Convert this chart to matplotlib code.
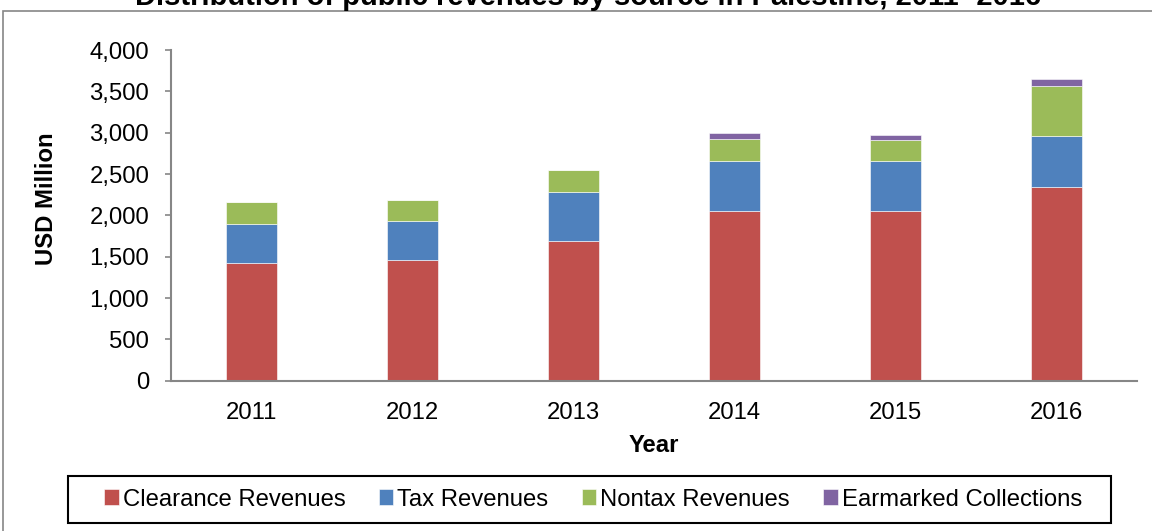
import numpy as np
import matplotlib
matplotlib.use("Agg")
import matplotlib.pyplot as plt
from matplotlib.patches import Rectangle

plt.rcParams['font.family'] = ['Liberation Sans', 'DejaVu Sans']

# values, USD million
years = ['2011', '2012', '2013', '2014', '2015', '2016']
clearance = [1422, 1462, 1692, 2051, 2051, 2341]
tax = [479, 475, 596, 604, 611, 623]
nontax = [259, 250, 262, 273, 247, 605]
earmarked = [0, 0, 0, 65, 60, 81]

series_names = ['Clearance Revenues', 'Tax Revenues', 'Nontax Revenues', 'Earmarked Collections']
colors = ['#C0504D', '#4F81BD', '#9BBB59', '#8064A2']

FS = 17.2
W, H = 1152, 531
fig = plt.figure(figsize=(W / 100, H / 100), dpi=100)
ax = fig.add_axes([170.7 / W, 1 - 380.7 / H, 966 / W, 330.7 / H])

x = np.arange(len(years))
bottom = np.zeros(len(years))
for vals, name, c in zip([clearance, tax, nontax, earmarked], series_names, colors):
    vals = np.array(vals, dtype=float)
    ax.bar(x, vals, 0.317, bottom=bottom, color=c, label=name,
           edgecolor='white', linewidth=0.4)
    bottom += vals

ax.set_xlim(-0.5, len(years) - 0.5)
ax.set_ylim(0, 4000)
ax.set_yticks(np.arange(0, 4001, 500))
ax.set_yticklabels([f'{v:,}' for v in range(0, 4001, 500)])
ax.set_xticks(x)
ax.set_xticklabels(years)

for s in ['top', 'right']:
    ax.spines[s].set_visible(False)
for s in ['left', 'bottom']:
    ax.spines[s].set_color('#868686')
    ax.spines[s].set_linewidth(1.5)

ax.tick_params(axis='y', length=4.5, width=1.2, color='#868686', pad=11, labelsize=FS)
ax.tick_params(axis='x', length=0, pad=15, labelsize=FS)

ax.set_ylabel('USD Million', fontsize=FS, fontweight='bold')
ax.yaxis.set_label_coords((58 - 170.7) / 966, (380.7 - 199) / 330.7)
ax.set_xlabel('Year', fontsize=FS, fontweight='bold')
ax.xaxis.set_label_coords(0.5, (380.7 - 434) / 330.7)

# title, mostly cut off at the top edge of the picture
fig.text(588 / W, 1 - 5 / H, 'Distribution of public revenues by source in Palestine, 2011- 2016',
         ha='center', va='baseline', fontsize=21, fontweight='bold')

# outer chart border
fig.patches.append(Rectangle((3 / W, -0.1), 1.2, 1 - 11 / H + 0.1, transform=fig.transFigure,
                             fill=False, edgecolor='#868686', linewidth=1.2))

# legend box
fig.patches.append(Rectangle((67.6 / W, 1 - 523 / H), (1111 - 67.6) / W, 47 / H,
                             transform=fig.transFigure, fill=False,
                             edgecolor='black', linewidth=1.5))
fig.legend(loc='center', bbox_to_anchor=(593 / W, 1 - 499.5 / H), ncol=4,
           fontsize=FS, frameon=False,
           handlelength=0.6, handleheight=0.6, handletextpad=0.17,
           columnspacing=1.4, borderpad=0)

fig.savefig('out.png', dpi=100)
